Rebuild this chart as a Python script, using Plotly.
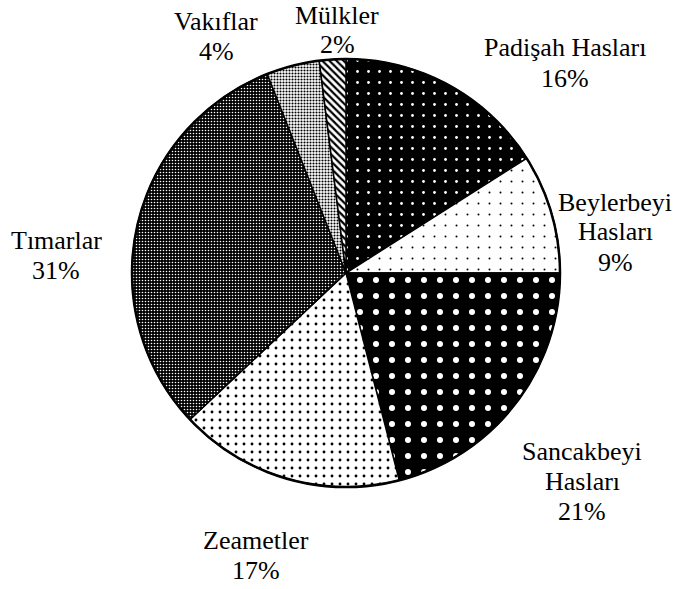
import plotly.graph_objects as go

# ---- data ----
categories = ["Padişah Hasları", "Beylerbeyi Hasları", "Sancakbeyi Hasları",
              "Zeametler", "Tımarlar", "Vakıflar", "Mülkler"]
label_lines = [["Padişah Hasları"], ["Beylerbeyi", "Hasları"], ["Sancakbeyi", "Hasları"],
               ["Zeametler"], ["Tımarlar"], ["Vakıflar"], ["Mülkler"]]
values = [16, 9, 21, 17, 31, 4, 2]

# ---- layout / style ----
W, H = 675, 589
CX, CY, R = 346, 273, 214
FONT = "Liberation Serif, Times New Roman, DejaVu Serif, serif"
FS = 26
LINE = 30

# label block centres (pixels)
label_centres = [(565, 63), (615, 232), (582, 481), (256, 555),
                 (56, 255), (216, 36), (337, 30)]

bg = ["black", "white", "black", "white", "black", "white", "white"]
fg = ["white", "black", "white", "black", "white", "black", "black"]
shapes_p = [".", ".", ".", ".", ".", ".", "\\"]
sizes_p = [11, 11, 16, 8, 3, 3, 5]
solid_p = [0.05, 0.025, 0.11, 0.1, 0.22, 0.4, 0.45]

fig = go.Figure(go.Pie(
    labels=categories, values=values, sort=False, direction="clockwise",
    rotation=0, textinfo="none", hoverinfo="label+percent",
    domain=dict(x=[(CX - R) / W, (CX + R) / W], y=[1 - (CY + R) / H, 1 - (CY - R) / H]),
    marker=dict(colors=bg, line=dict(color="black", width=1.5),
                pattern=dict(shape=shapes_p, fgcolor=fg, bgcolor=bg,
                             size=sizes_p, solidity=solid_p, fillmode="replace")),
    showlegend=False,
))

total = sum(values)
annotations = []
for lines, v, (lx, ly) in zip(label_lines, values, label_centres):
    all_lines = lines + [f"{round(100 * v / total)}%"]
    n = len(all_lines)
    for i, t in enumerate(all_lines):
        py = ly + (i - (n - 1) / 2) * LINE
        annotations.append(dict(
            text=t, x=lx / W, y=1 - py / H, xref="paper", yref="paper",
            xanchor="center", yanchor="middle", showarrow=False,
            font=dict(family=FONT, size=FS, color="black")))

fig.update_layout(
    width=W, height=H, margin=dict(l=0, r=0, t=0, b=0),
    paper_bgcolor="white", plot_bgcolor="white",
    font=dict(family=FONT),
    annotations=annotations,
    shapes=[dict(type="circle", xref="paper", yref="paper",
                 x0=(CX - R) / W, x1=(CX + R) / W,
                 y0=1 - (CY + R) / H, y1=1 - (CY - R) / H,
                 line=dict(color="black", width=2.5))],
)

fig.write_html("out.html", config={"displayModeBar": False},
               post_script="document.body.style.margin='0px';")
